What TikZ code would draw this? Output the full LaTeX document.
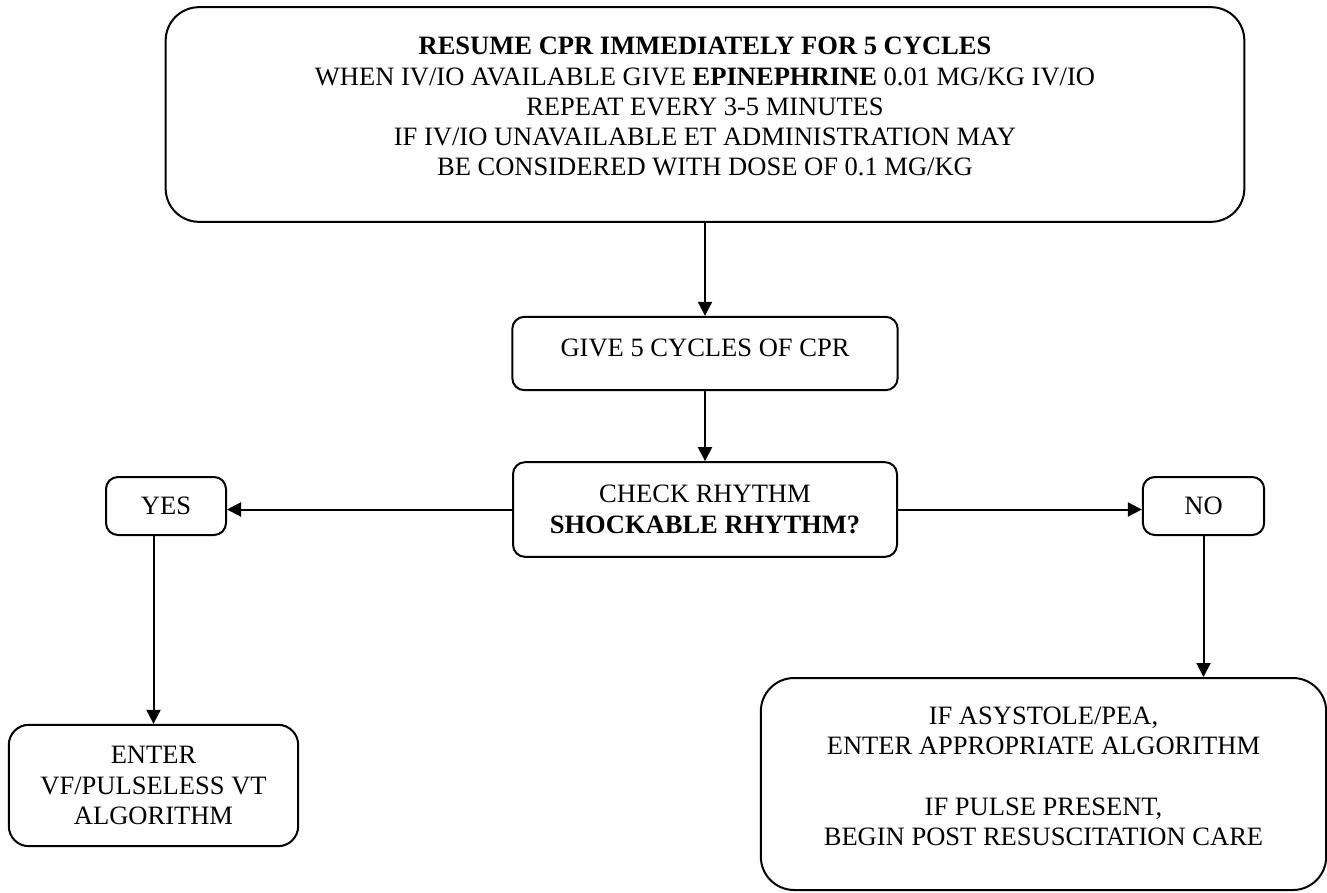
\documentclass[tikz,border=0pt]{standalone}
\usepackage{fontspec}
\setmainfont{Liberation Serif}
\usetikzlibrary{arrows.meta}
\tikzset{
	flowbox/.style={draw, line width=1.5pt, rounded corners=9pt, align=center, inner sep=0pt,
		font=\fontsize{19.9pt}{22.7pt}\selectfont},
	flowarrow/.style={line width=1.5pt, -{Triangle[length=10.5pt,width=10.5pt]}}
}

\begin{document}
\begin{tikzpicture}[x=0.75pt, y=-0.75pt]
			%%%%% START %%%%%
			\useasboundingbox (0, 0) rectangle (1327, 892);
			
			\node[flowbox, rounded corners=25pt, minimum width=809pt, minimum height=161pt, text depth=12pt] (resume) at (705, 114.5)
				{\textbf{RESUME CPR IMMEDIATELY FOR 5 CYCLES}\\
				WHEN IV/IO AVAILABLE GIVE \textbf{EPINEPHRINE} 0.01 MG/KG IV/IO\\
				REPEAT EVERY 3-5 MINUTES\\
				IF IV/IO UNAVAILABLE ET ADMINISTRATION MAY\\
				BE CONSIDERED WITH DOSE OF 0.1 MG/KG};
			
			\node[flowbox, minimum width=289pt, minimum height=55pt, text height=13.2pt, text depth=8.2pt] (give) at (705, 353.5) {GIVE 5 CYCLES OF CPR};
			
			\node[flowbox, minimum width=288pt, minimum height=71pt] (check) at (705, 509.5) {CHECK RHYTHM\\ \textbf{SHOCKABLE RHYTHM?}};
			
			\node[flowbox, minimum width=90pt, minimum height=43.5pt] (yes) at (166, 506) {YES};
			\node[flowbox, minimum width=91pt, minimum height=43.5pt] (no) at (1203.5, 506) {NO};
			
			\node[flowbox, rounded corners=15pt, minimum width=217pt, minimum height=91pt] (enter) at (153.5, 785.5)
				{ENTER\\ VF/PULSELESS VT\\ ALGORITHM};
			
			\node[flowbox, rounded corners=25pt, minimum width=424pt, minimum height=159pt, text depth=12pt] (post) at (1043.5, 784)
				{IF ASYSTOLE/PEA,\\ ENTER APPROPRIATE ALGORITHM\\[22.7pt]
				IF PULSE PRESENT,\\ BEGIN POST RESUSCITATION CARE};
			
			\draw[flowarrow] (resume) -- (give);
			\draw[flowarrow] (give) -- (check);
			\draw[flowarrow] (check.west) -- (yes.east |- check.west);
			\draw[flowarrow] (check.east) -- (no.west |- check.east);
			\draw[flowarrow] (yes.south -| enter.north) -- (enter.north);
			\draw[flowarrow] (no.south) -- (no.south |- post.north);
			
			%%%%% END %%%%%
\end{tikzpicture}
\end{document}
